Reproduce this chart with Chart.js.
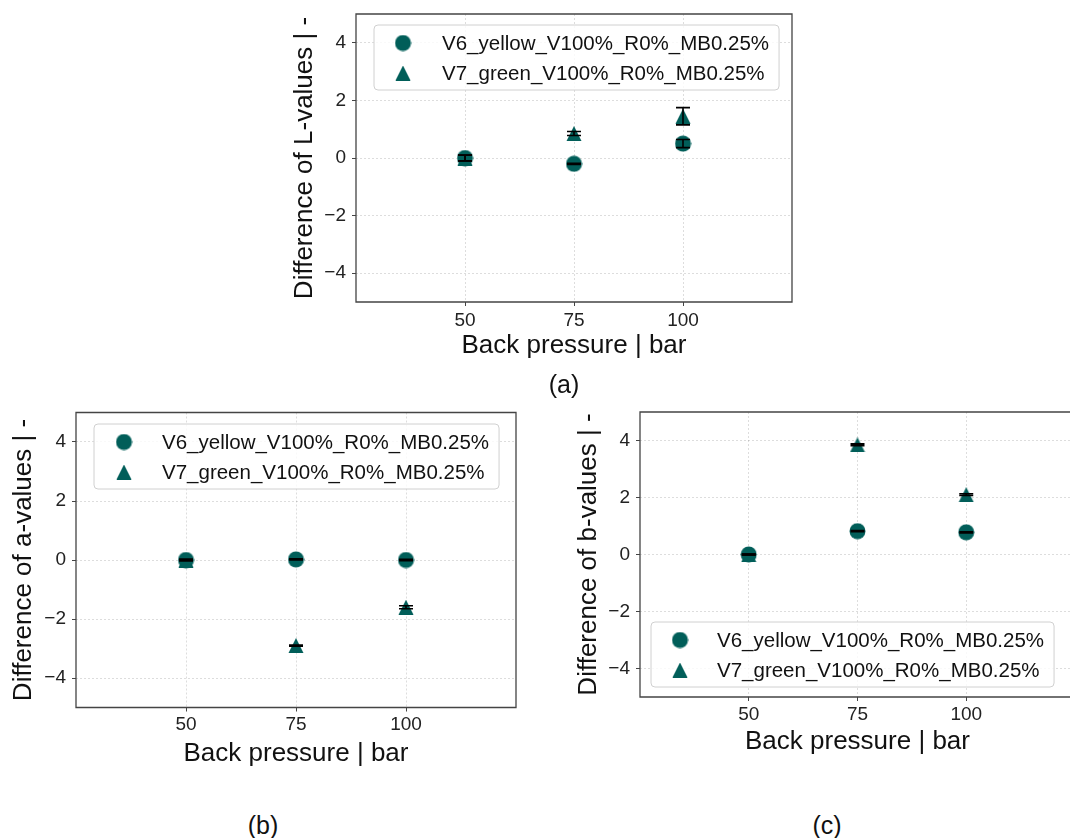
<!DOCTYPE html>
<html>
<head>
<meta charset="utf-8">
<title>Colour differences vs back pressure</title>
<script src="https://cdn.jsdelivr.net/npm/chart.js@4.4.1/dist/chart.umd.min.js"></script>
<style>
    html, body { margin: 0; padding: 0; background: #fff; overflow: hidden; width: 1070px; height: 838px; }
    .panel { position: absolute; }
    .cap {
        position: absolute;
        font: 25px 'Liberation Sans', Arial, sans-serif;
        color: #111;
        transform: translate(-50%, -50%);
        white-space: nowrap;
    }
</style>
</head>
<body>
<div class="panel" style="left:270px;top:0;width:540px;height:400px"><canvas id="chartL"></canvas></div>
<div class="panel" style="left:0;top:400px;width:540px;height:400px"><canvas id="chartA"></canvas></div>
<div class="panel" style="left:548px;top:400px;width:550px;height:400px"><canvas id="chartB"></canvas></div>
<div class="cap" style="left:564px;top:384px">(a)</div>
<div class="cap" style="left:263px;top:825px">(b)</div>
<div class="cap" style="left:827px;top:825px">(c)</div>

<script>
// ── Data ──────────────────────────────────────────────────────────────

const pressures    = [50, 75, 100];
const xTicks       = [50, 75, 100];
const yTicks       = [-4, -2, 0, 2, 4];
const seriesLabels = ['V6_yellow_V100%_R0%_MB0.25%', 'V7_green_V100%_R0%_MB0.25%'];

// L-values
const lV6    = [0, -0.2, 0.5];
const lV6Err = [0.1, 0.02, 0.14];
const lV7    = [0, 0.85, 1.45];
const lV7Err = [0.1, 0.07, 0.3];

// a-values
const aV6    = [0, 0.02, 0];
const aV6Err = [0.02, 0.02, 0.02];
const aV7    = [0, -2.9, -1.6];
const aV7Err = [0.02, 0.02, 0.05];

// b-values
const bV6    = [0, 0.82, 0.78];
const bV6Err = [0.02, 0.02, 0.02];
const bV7    = [0, 3.85, 2.1];
const bV7Err = [0.02, 0.03, 0.03];

const teal = '#015e59';
Chart.defaults.font.family = "'Liberation Sans', Arial, sans-serif";
Chart.defaults.color = '#222';

// ── Markers ───────────────────────────────────────────────────────────

function makeMarker(shape) {
    const c = document.createElement('canvas');
    const g = c.getContext('2d');
    if (shape === 'circle') {
        c.width = 17; c.height = 17;
        g.fillStyle = teal;
        g.beginPath();
        g.arc(8.5, 8.5, 8, 0, Math.PI * 2);
        g.fill();
    } else {
        c.width = 16; c.height = 15;
        g.fillStyle = teal;
        g.beginPath();
        g.moveTo(8, 0);
        g.lineTo(0.5, 15);
        g.lineTo(15.5, 15);
        g.closePath();
        g.fill();
    }
    return c;
}

const circleMarker   = makeMarker('circle');
const triangleMarker = makeMarker('triangle');

// ── Plugins ───────────────────────────────────────────────────────────

// full box around the plot; the right side of panel (c) runs off the page
const frame = {
    id: 'frame',
    beforeDatasetsDraw(chart, args, opts) {
        const { ctx, chartArea: a } = chart;
        ctx.save();
        ctx.strokeStyle = '#444';
        ctx.lineWidth = 1.3;
        ctx.beginPath();
        ctx.moveTo(a.right, a.top);
        ctx.lineTo(a.left, a.top);
        ctx.lineTo(a.left, a.bottom);
        ctx.lineTo(a.right, a.bottom);
        if (!opts.openRight) ctx.closePath();
        ctx.stroke();
        ctx.restore();
    },
};

const errorBars = {
    id: 'errorBars',
    afterDatasetsDraw(chart) {
        const { ctx, scales: { x, y } } = chart;
        ctx.save();
        ctx.strokeStyle = '#000';
        ctx.lineWidth = 1.6;
        chart.data.datasets.forEach(ds => {
            ds.data.forEach((p, i) => {
                const e   = ds.errors[i];
                const px  = x.getPixelForValue(p.x);
                const top = y.getPixelForValue(p.y + e);
                const bot = y.getPixelForValue(p.y - e);
                ctx.beginPath();
                ctx.moveTo(px, top);     ctx.lineTo(px, bot);
                ctx.moveTo(px - 7, top); ctx.lineTo(px + 7, top);
                ctx.moveTo(px - 7, bot); ctx.lineTo(px + 7, bot);
                ctx.stroke();
            });
        });
        ctx.restore();
    },
};

const boxLegend = {
    id: 'boxLegend',
    afterDraw(chart, args, opts) {
        const { ctx, chartArea: a } = chart;
        const sets = chart.data.datasets;
        ctx.save();
        ctx.font = `${opts.fontSize}px ${Chart.defaults.font.family}`;
        const textW = Math.max(...sets.map(d => ctx.measureText(d.label).width));
        const w = opts.textX + textW + 10;
        const h = 65;
        const x = a.left + opts.offsetX;
        const y = opts.anchor === 'top' ? a.top + opts.offsetY : a.bottom - opts.offsetY - h;

        ctx.beginPath();
        ctx.roundRect(x, y, w, h, 4);
        ctx.fillStyle = 'rgba(255,255,255,0.8)';
        ctx.fill();
        ctx.strokeStyle = '#d0d0d0';
        ctx.lineWidth = 1;
        ctx.stroke();

        sets.forEach((ds, i) => {
            const ry = y + 18 + i * 30;
            const m  = ds.pointStyle;
            ctx.drawImage(m, x + opts.markerX - m.width / 2, ry - m.height / 2);
            ctx.fillStyle = '#111';
            ctx.textBaseline = 'middle';
            ctx.textAlign = 'left';
            ctx.fillText(ds.label, x + opts.textX, ry + 1);
        });
        ctx.restore();
    },
};

// ── Chart builder ─────────────────────────────────────────────────────

const toPoints = vals => vals.map((v, i) => ({ x: pressures[i], y: v }));
const tickText = v => v < 0 ? '\u2212' + Math.abs(v) : String(v);

function buildChart(id, cfg) {
    return new Chart(document.getElementById(id), {
        type: 'scatter',
        data: {
            datasets: [
                { label: seriesLabels[0], data: toPoints(cfg.v6), errors: cfg.v6Err,
                  pointStyle: circleMarker, pointRadius: 8, pointBorderWidth: 0 },
                { label: seriesLabels[1], data: toPoints(cfg.v7), errors: cfg.v7Err,
                  pointStyle: triangleMarker, pointRadius: 8, pointBorderWidth: 0 },
            ],
        },
        options: {
            responsive: true,
            maintainAspectRatio: false,
            animation: false,
            events: [],
            layout: { padding: { left: 0, top: cfg.padTop, right: cfg.padRight, bottom: 0 } },
            plugins: {
                legend:  { display: false },
                tooltip: { enabled: false },
                boxLegend: cfg.legend,
                frame: { openRight: !!cfg.openRight },
            },
            scales: {
                x: {
                    type: 'linear', min: 25, max: 125,
                    afterBuildTicks: s => { s.ticks = xTicks.map(v => ({ value: v })); },
                    afterFit: s => { s.height = cfg.xAxisHeight; s.paddingLeft = 0; s.paddingRight = 0; },
                    ticks: { font: { size: 19 }, color: '#222', padding: cfg.xTickPad },
                    grid: { color: 'rgba(0,0,0,0.17)', lineWidth: 0.8, tickColor: '#444', tickLength: 4, tickWidth: 1 },
                    border: { display: false, dash: [2, 2] },
                    title: { display: true, text: 'Back pressure | bar', font: { size: 26 }, color: '#111',
                             padding: { top: 0, bottom: cfg.xTitlePad } },
                },
                y: {
                    type: 'linear', min: -5, max: 5,
                    afterBuildTicks: s => { s.ticks = yTicks.map(v => ({ value: v })); },
                    afterFit: s => { s.width = cfg.yAxisWidth; s.paddingTop = 0; s.paddingBottom = 0; },
                    ticks: { font: { size: 19 }, color: '#222', padding: 6, callback: tickText },
                    grid: { color: 'rgba(0,0,0,0.17)', lineWidth: 0.8, tickColor: '#444', tickLength: 4, tickWidth: 1 },
                    border: { display: false, dash: [2, 2] },
                    title: { display: true, text: cfg.yTitle, font: { size: 26 }, color: '#111',
                             padding: { top: cfg.yTitlePad, bottom: 0 } },
                },
            },
        },
        plugins: [frame, errorBars, boxLegend],
    });
}

// ── Panels ────────────────────────────────────────────────────────────

buildChart('chartL', {
    v6: lV6, v6Err: lV6Err, v7: lV7, v7Err: lV7Err,
    yTitle: 'Difference of L-values | -',
    padTop: 14, padRight: 18, yAxisWidth: 86, xAxisHeight: 98,
    yTitlePad: 19.4, xTitlePad: 38.4, xTickPad: 3,
    legend: { anchor: 'top', offsetX: 18, offsetY: 11, markerX: 29, textX: 68, fontSize: 20.5 },
});

buildChart('chartA', {
    v6: aV6, v6Err: aV6Err, v7: aV7, v7Err: aV7Err,
    yTitle: 'Difference of a-values | -',
    padTop: 12.5, padRight: 24, yAxisWidth: 76, xAxisHeight: 92.5,
    yTitlePad: 8.4, xTitlePad: 30.4, xTickPad: 2,
    legend: { anchor: 'top', offsetX: 18, offsetY: 11.5, markerX: 30, textX: 68, fontSize: 20.5 },
});

buildChart('chartB', {
    v6: bV6, v6Err: bV6Err, v7: bV7, v7Err: bV7Err,
    yTitle: 'Difference of b-values | -',
    padTop: 12, padRight: 23, yAxisWidth: 92, xAxisHeight: 103,
    yTitlePad: 25.4, xTitlePad: 42.4, xTickPad: 2, openRight: true,
    legend: { anchor: 'bottom', offsetX: 11, offsetY: 10, markerX: 29, textX: 66, fontSize: 20.5 },
});
</script>
</body>
</html>
